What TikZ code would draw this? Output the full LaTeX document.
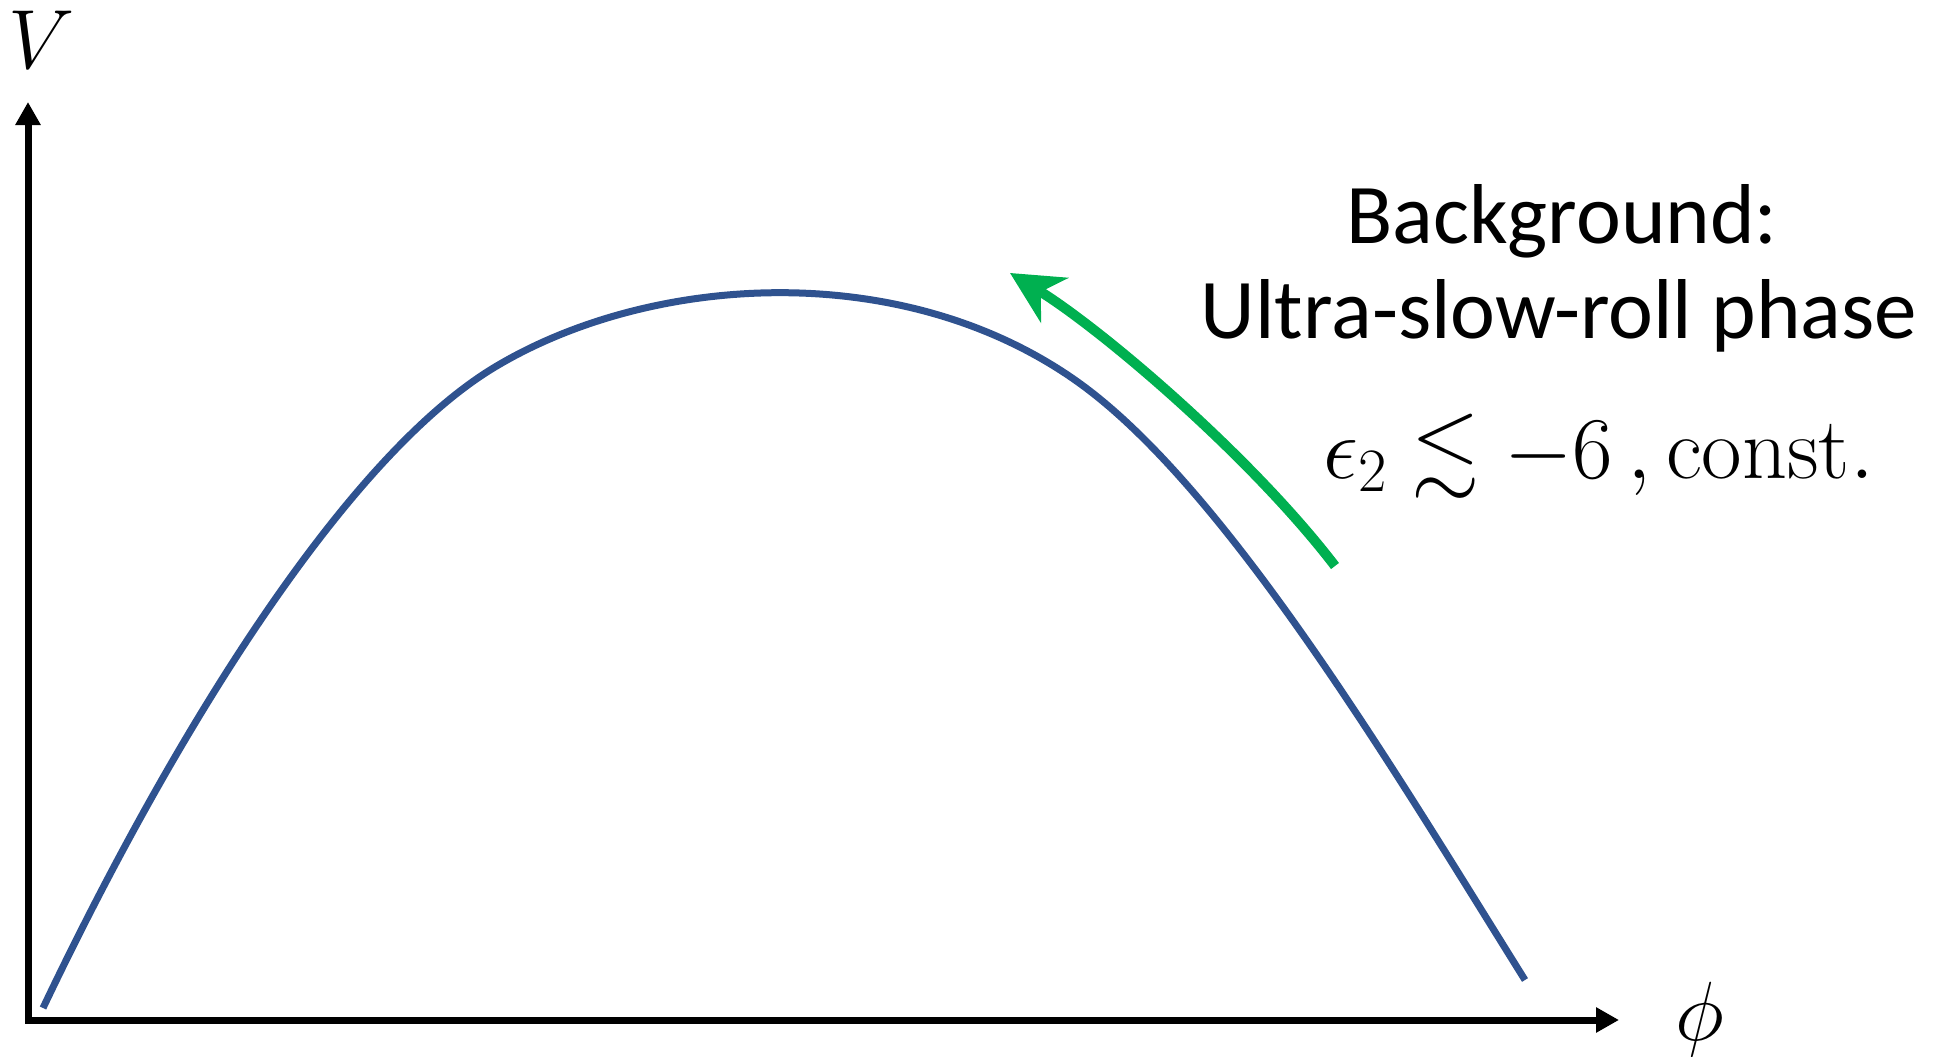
\RequirePackage{fix-cm}
\documentclass[tikz,border=0pt]{standalone}
\usepackage{amssymb}
\usepackage[no-math]{fontspec}
\newfontfamily\calib{Carlito}
\usetikzlibrary{arrows.meta}
\definecolor{curveblue}{RGB}{47,82,143}
\definecolor{arrowgreen}{RGB}{0,176,80}
\begin{document}
\begin{tikzpicture}[x=1pt,y=-1pt,
  axis/.style={line width=7pt, line join=miter, arrows={Triangle[length=23pt,width=24pt]-Triangle[length=23pt,width=24pt]}},
  potential/.style={line width=7pt, curveblue},
  flow/.style={line width=10pt, arrowgreen, arrows={-Stealth[length=52pt,width=52pt,inset=16pt]}},
  txt/.style={font=\calib\fontsize{85}{100}\selectfont, inner sep=0pt, anchor=base},
  mlbl/.style={font=\fontsize{84}{100}\selectfont, inner sep=0pt}]
\useasboundingbox (0,0) rectangle (1946,1057);
% axes
\coordinate (ytip) at (28,102);
\coordinate (origin) at (28,1020);
\coordinate (xtip) at (1619,1020);
\draw[axis] (ytip) -- (origin) -- (xtip);
\node[mlbl, anchor=base west] (vlab) at (8,68) {$V$};
\node[mlbl, anchor=base] (philab) at (1700,1040) {$\phi$};
% potential
\coordinate (p0) at (43,1008);
\coordinate (p1) at (495,367);
\coordinate (p2) at (1075,380);
\coordinate (p3) at (1525,980);
\draw[potential] (p0) .. controls (173,735) and (345,457) .. (p1)
  .. controls (650,274) and (900,257.5) .. (p2)
  .. controls (1225,485) and (1395,772) .. (p3);
% green arrow
\coordinate (gstart) at (1335,566);
\coordinate (gend) at (1010,273);
\draw[flow] (gstart) .. controls (1250,455) and (1100,328) .. (gend);
% labels
\node[txt] (bg) at (1562,243) {Background:};
\node[txt] (usr) at (1559,338) {Ultra-slow-roll phase};
\node[mlbl, font=\fontsize{88}{100}\selectfont, anchor=base west] (cond) at (1323,478) {$\epsilon_2 \lesssim -6\,, \mathrm{const.}$};
\end{tikzpicture}
\end{document}
